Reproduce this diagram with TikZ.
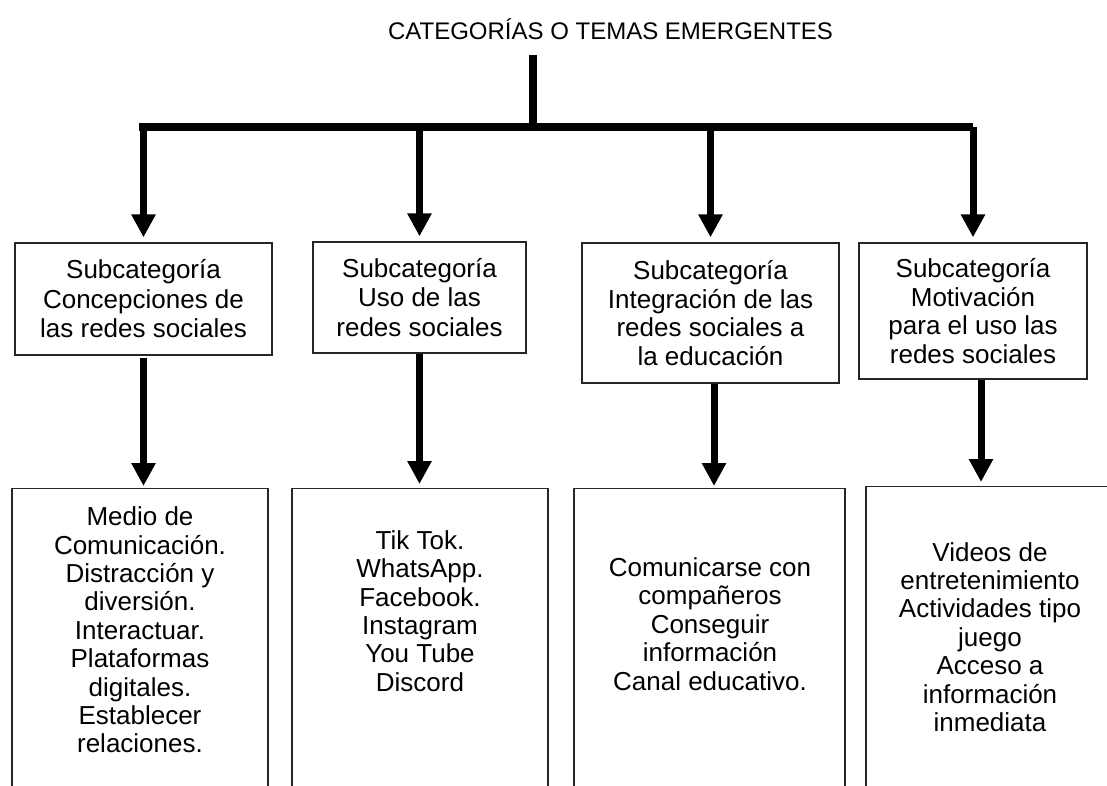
\documentclass[tikz,border=0pt]{standalone}
\usepackage{fontspec}
\setmainfont{Liberation Sans}
\usetikzlibrary{arrows.meta}
\begin{document}
\begin{tikzpicture}[x=1pt,y=1pt,
  titletxt/.style={font={\fontsize{24}{28.4}\selectfont}, align=center, inner sep=0pt},
  txt/.style={font={\fontsize{26}{28.4}\selectfont}, align=center, inner sep=0pt},
  toptxt/.style={font={\fontsize{26}{29.5}\selectfont}, align=center, inner sep=0pt},
  topbox/.style={toptxt, draw=black!85, line width=1.3pt, rectangle},
  lowbox/.style={draw=black!85, line width=1.3pt, rectangle, inner sep=0pt, anchor=north, minimum height=330pt},
  arr/.style={line width=7pt, -{Triangle[width=23pt,length=23pt]}},
  barline/.style={line width=7.5pt}]
\useasboundingbox (0,0) rectangle (1107,-786);
\clip (0,0) rectangle (1107,-786);

% title
\node[titletxt] (title) at (610.5,-29) {CATEGORÍAS O TEMAS EMERGENTES};
\coordinate (stemtop) at (533,-55);
\coordinate (stembot) at (533,-127);
\coordinate (barL) at (139,-127);
\coordinate (barR) at (973,-127);

% subcategory boxes
\node[topbox, minimum width=257pt, minimum height=112pt] (t1) at (143.5,-299) {Subcategoría\\Concepciones de\\las redes sociales};
\node[topbox, minimum width=213pt, minimum height=111pt] (t2) at (419.5,-297.5) {Subcategoría\\Uso de las\\redes sociales};
\node[topbox, minimum width=257pt, minimum height=140pt, font={\fontsize{26}{28.5}\selectfont}] (t3) at (710.5,-313) {Subcategoría\\Integración de las\\redes sociales a\\la educación};
\node[topbox, minimum width=228pt, minimum height=136pt, font={\fontsize{26}{28.5}\selectfont}] (t4) at (973,-311) {Subcategoría\\Motivación\\para el uso las\\redes sociales};

% lower boxes (open at the bottom, cut by the page edge)
\node[lowbox, minimum width=256pt] (b1) at (140,-488) {};
\node[lowbox, minimum width=256pt] (b2) at (420,-488) {};
\node[lowbox, minimum width=271pt] (b3) at (709.5,-488) {};
\node[lowbox, minimum width=248pt] (b4) at (990,-486) {};

\node[txt] (b1t) at (140,-630) {Medio de\\Comunicación.\\Distracción y\\diversión.\\Interactuar.\\Plataformas\\digitales.\\Establecer\\relaciones.};
\node[txt] (b2t) at (420,-611) {Tik Tok.\\WhatsApp.\\Facebook.\\Instagram\\You Tube\\Discord};
\node[txt] (b3t) at (710,-624) {Comunicarse con\\compañeros\\Conseguir\\información\\Canal educativo.};
\node[txt] (b4t) at (990,-637) {Videos de\\entretenimiento\\Actividades tipo\\juego\\Acceso a\\información\\inmediata};

% tree connectors
\draw[barline] (stemtop) -- (stembot);
\draw[barline] (barL) -- (barR);
\draw[arr, shorten >=5pt] (t1.north |- barL) -- (t1.north);
\draw[arr, shorten >=5pt] (t2.north |- barL) -- (t2.north);
\draw[arr, shorten >=5pt] (t3.north |- barL) -- (t3.north);
\draw[arr, shorten >=5pt] (t4.north |- barL) -- (t4.north);

% lower arrows
\draw[arr, shorten <=2pt, shorten >=2pt] (t1.south) -- (t1.south |- b1.north);
\draw[arr, shorten <=0pt, shorten >=4pt] (t2.south) -- (t2.south |- b2.north);
\draw[arr, shorten <=0pt, shorten >=2pt] ([xshift=3.5pt]t3.south) -- ([xshift=3.5pt]t3.south |- b3.north);
\draw[arr, shorten <=0pt, shorten >=4pt] ([xshift=8pt]t4.south) -- ([xshift=8pt]t4.south |- b4.north);
\end{tikzpicture}
\end{document}
